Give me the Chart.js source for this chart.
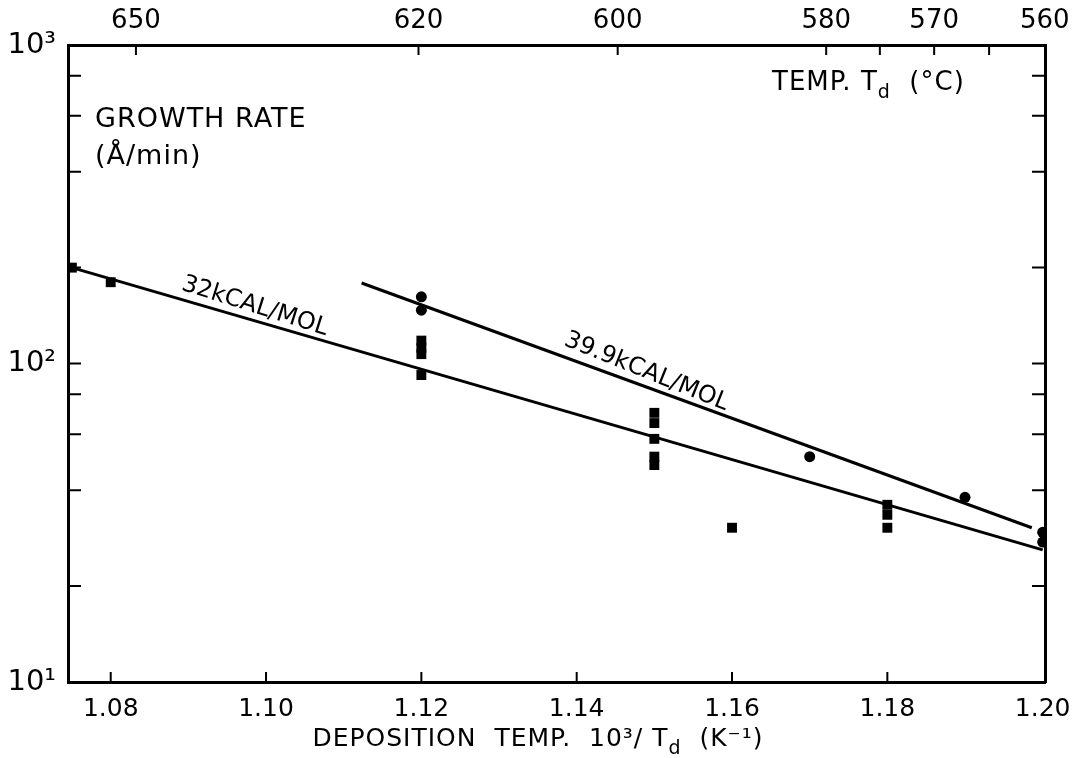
<!DOCTYPE html>
<html>
<head>
<meta charset="utf-8">
<script src="https://cdn.jsdelivr.net/npm/chart.js@4.4.0/dist/chart.umd.min.js"></script>
<style>
  html, body { margin: 0; padding: 0; background: #fff; }
</style>
</head>
<body>
<canvas id="growth" width="1086" height="758"></canvas>
<script>
// measured points, x = 10^3/Td (1/K), y = growth rate (A/min)
const squareX = [1.075, 1.08, 1.12, 1.12, 1.12, 1.12, 1.15, 1.15, 1.15, 1.15, 1.15, 1.16, 1.18, 1.18, 1.18];
const squareY = [200, 180, 118, 112, 107, 92, 70, 65, 58, 51, 48, 30.5, 36, 33.5, 30.5];
const circleX = [1.12, 1.12, 1.17, 1.19, 1.20, 1.20];
const circleY = [162, 147, 51, 38, 29.5, 27.5];

// fitted lines
const lowLineX = [1.075, 1.20];
const lowLineY = [200, 26];
const highLineX = [1.1123, 1.1986];
const highLineY = [179, 30.5];

// axes
const bottomTicks = [1.08, 1.10, 1.12, 1.14, 1.16, 1.18, 1.20];
const topTempLabels = [650, 620, 600, 580, 570, 560];
const topTempTicks = [650, 620, 600, 580, 575, 570, 565];
const yLabelTicks = [10, 100, 1000];
const yMinorTicks = [20, 40, 60, 80, 100, 200, 400, 600, 800];

const toInv = t => 1000 / (t + 273.15);
const sup = { 1: '\u00b9', 2: '\u00b2', 3: '\u00b3' };
const FONT = '"DejaVu Sans", sans-serif';

function pts(xs, ys) {
  return xs.map((x, i) => ({ x: x, y: ys[i] }));
}

// draw a row of text pieces (normal / subscript) starting at x
function drawRuns(ctx, runs, x, y, align) {
  let total = 0;
  runs.forEach(r => { ctx.font = r.size + 'px ' + FONT; total += ctx.measureText(r.t).width; });
  let cx = align === 'center' ? x - total / 2 : x;
  ctx.textAlign = 'left';
  ctx.textBaseline = 'alphabetic';
  runs.forEach(r => {
    ctx.font = r.size + 'px ' + FONT;
    ctx.fillText(r.t, cx, y + (r.dy || 0));
    cx += ctx.measureText(r.t).width;
  });
}

const inkPlugin = {
  id: 'ink',
  afterDatasetsDraw(chart) {
    const { ctx, chartArea: a, scales } = chart;
    ctx.save();
    ctx.strokeStyle = '#000';
    ctx.lineWidth = 2;
    ctx.beginPath();
    bottomTicks.slice(0, -1).forEach(v => {
      const px = scales.x.getPixelForValue(v);
      ctx.moveTo(px, a.bottom); ctx.lineTo(px, a.bottom - 10);
    });
    topTempTicks.forEach(t => {
      const px = scales.x.getPixelForValue(toInv(t));
      ctx.moveTo(px, a.top); ctx.lineTo(px, a.top + 10);
    });
    yMinorTicks.forEach(v => {
      const py = scales.y.getPixelForValue(v);
      ctx.moveTo(a.left, py); ctx.lineTo(a.left + 13, py);
      ctx.moveTo(a.right, py); ctx.lineTo(a.right - 13, py);
    });
    ctx.stroke();

    ctx.fillStyle = '#000';
    ctx.font = '27px ' + FONT;
    ctx.textAlign = 'left';
    ctx.textBaseline = 'middle';
    ctx.letterSpacing = '1px';
    ctx.fillText('GROWTH RATE', 95, 120);
    ctx.fillText('(\u00c5/min)', 95, 157);

    drawRuns(ctx, [
      { t: 'TEMP. T', size: 26 },
      { t: 'd', size: 19, dy: 8 },
      { t: '  (\u00b0C)', size: 26 }
    ], 772, 90, 'left');

    ctx.letterSpacing = '1px';
    drawRuns(ctx, [
      { t: 'DEPOSITION  TEMP.  10\u00b3/ T', size: 25 },
      { t: 'd', size: 19, dy: 8 },
      { t: '  (K\u207b\u00b9)', size: 25 }
    ], 538, 746, 'center');
    ctx.letterSpacing = '0px';

    // slope labels along the lines
    const lab = (text, xv, yv, lift, deg) => {
      const px = scales.x.getPixelForValue(xv);
      const py = scales.y.getPixelForValue(yv);
      ctx.save();
      ctx.translate(px, py);
      ctx.rotate(deg * Math.PI / 180);
      ctx.font = '24px ' + FONT;
      ctx.textAlign = 'center';
      ctx.textBaseline = 'alphabetic';
      ctx.fillText(text, 0, -lift);
      ctx.restore();
    };
    lab('32kCAL/MOL', 1.098, 137, 8, 17.5);
    lab('39.9kCAL/MOL', 1.1483, 85.6, 8, 22);
    ctx.restore();
  }
};

new Chart(document.getElementById('growth'), {
  type: 'scatter',
  data: {
    datasets: [
      { type: 'line', data: pts(lowLineX, lowLineY), borderColor: '#000', borderWidth: 3, pointRadius: 0, fill: false },
      { type: 'line', data: pts(highLineX, highLineY), borderColor: '#000', borderWidth: 3, pointRadius: 0, fill: false },
      { data: pts(squareX, squareY), pointStyle: 'rect', pointRadius: 7, backgroundColor: '#000', borderColor: '#000', borderWidth: 0 },
      { data: pts(circleX, circleY), pointStyle: 'circle', pointRadius: 5.5, backgroundColor: '#000', borderColor: '#000', borderWidth: 0 }
    ]
  },
  options: {
    responsive: false,
    animation: false,
    events: [],
    layout: { padding: 0 },
    plugins: { legend: { display: false }, tooltip: { enabled: false } },
    scales: {
      x: {
        type: 'linear', position: 'bottom', min: 1.0745, max: 1.2003,
        afterBuildTicks: s => { s.ticks = bottomTicks.map(v => ({ value: v })); },
        afterFit: s => { s.height = 76; },
        grid: { display: false, drawTicks: false },
        border: { display: true, color: '#000', width: 3 },
        ticks: {
          color: '#000', font: { family: FONT, size: 25 }, padding: 12,
          maxRotation: 0, autoSkip: false, callback: v => v.toFixed(2)
        }
      },
      x2: {
        type: 'linear', position: 'top', min: 1.0745, max: 1.2003,
        afterBuildTicks: s => { s.ticks = topTempLabels.map(t => ({ value: toInv(t) })); },
        afterFit: s => { s.height = 45; },
        grid: { display: false, drawTicks: false },
        border: { display: true, color: '#000', width: 3 },
        ticks: {
          color: '#000', font: { family: FONT, size: 26 }, padding: 8,
          maxRotation: 0, autoSkip: false, callback: v => String(Math.round(1000 / v - 273.15))
        }
      },
      y: {
        type: 'logarithmic', position: 'left', min: 10, max: 1000,
        afterBuildTicks: s => { s.ticks = yLabelTicks.map(v => ({ value: v })); },
        afterFit: s => { s.width = 68; },
        grid: { display: false, drawTicks: false },
        border: { display: true, color: '#000', width: 3 },
        ticks: {
          color: '#000', font: { family: FONT, size: 29 }, padding: 12,
          callback: v => '10' + sup[Math.round(Math.log10(v))]
        }
      },
      y2: {
        type: 'logarithmic', position: 'right', min: 10, max: 1000,
        afterFit: s => { s.width = 41; },
        grid: { display: false, drawTicks: false },
        border: { display: true, color: '#000', width: 3 },
        ticks: { display: false }
      }
    }
  },
  plugins: [inkPlugin]
});
</script>
</body>
</html>
